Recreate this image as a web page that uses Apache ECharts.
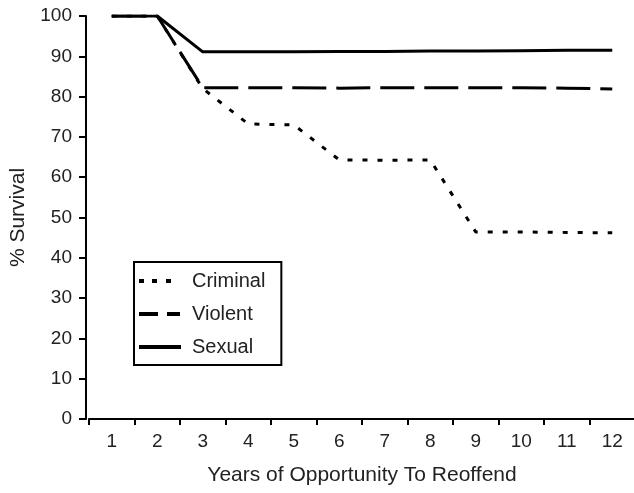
<!DOCTYPE html>
<html>
<head>
<meta charset="utf-8">
<script src="https://cdn.jsdelivr.net/npm/echarts@6/dist/echarts.min.js"></script>
<style>
  html, body { margin: 0; padding: 0; background: #fff; }
  #chart { width: 634px; height: 493px; }
</style>
</head>
<body>
<div id="chart"></div>
<script>
var years = ['1', '2', '3', '4', '5', '6', '7', '8', '9', '10', '11', '12'];
var criminal = [100, 100, 82, 73.2, 73, 64.3, 64.2, 64.3, 46.4, 46.4, 46.3, 46.2];
var violent = [100, 100, 82.2, 82.2, 82.2, 82.1, 82.2, 82.2, 82.2, 82.2, 82.1, 81.9];
var sexual = [100, 100, 91.1, 91.1, 91.1, 91.2, 91.2, 91.3, 91.3, 91.4, 91.5, 91.5];

var font = 'Liberation Sans, Arial, sans-serif';
var ink = '#222';

// legend keys drawn as little filled shapes (last M just stretches the box)
var keyCriminal = 'path://M0,0h5v4h-5z M13,0h5v4h-5z M27,0h5v4h-5z M42,4';
var keyViolent = 'path://M0,0h19v4h-19z M28,0h13v4h-13z M42,4';
var keySexual = 'path://M0,0h42v4h-42z';

var myChart = echarts.init(document.getElementById('chart'));

var option = {
  animation: false,
  textStyle: { fontFamily: font },
  grid: { left: 89, right: -1, top: 16, bottom: 74, outerBoundsMode: 'none', containLabel: false },
  legend: {
    orient: 'vertical',
    left: 134,
    top: 262,
    padding: [9, 16, 8, 5],
    itemGap: 13,
    itemWidth: 42,
    itemHeight: 4,
    borderColor: '#000',
    borderWidth: 2,
    itemStyle: { color: '#000' },
    textStyle: { fontFamily: font, fontSize: 20, color: ink, padding: [0, 0, 0, 6] },
    data: [
      { name: 'Criminal', icon: keyCriminal },
      { name: 'Violent', icon: keyViolent },
      { name: 'Sexual', icon: keySexual }
    ]
  },
  xAxis: {
    type: 'category',
    data: years,
    boundaryGap: true,
    name: 'Years of Opportunity To Reoffend',
    nameLocation: 'middle',
    nameGap: 46,
    nameTextStyle: { fontSize: 21, color: ink },
    axisLine: { lineStyle: { color: '#000', width: 2 } },
    axisTick: { show: true, length: 6, lineStyle: { color: '#000', width: 2 } },
    axisLabel: { fontSize: 19, color: ink, margin: 13 },
    splitLine: { show: false }
  },
  yAxis: {
    type: 'value',
    min: 0,
    max: 100,
    interval: 10,
    offset: 3,
    name: '% Survival',
    nameLocation: 'middle',
    nameGap: 57,
    nameTextStyle: { fontSize: 21, color: ink },
    axisLine: { show: true, lineStyle: { color: '#000', width: 2 } },
    axisTick: { show: true, length: 7, lineStyle: { color: '#000', width: 2 } },
    axisLabel: { fontSize: 19, color: ink, margin: 14 },
    splitLine: { show: false }
  },
  series: [
    {
      name: 'Criminal',
      type: 'line',
      data: criminal,
      symbol: 'none',
      itemStyle: { color: '#000' },
      lineStyle: { color: '#000', width: 3, type: [5, 10] }
    },
    {
      name: 'Violent',
      type: 'line',
      data: violent,
      symbol: 'none',
      itemStyle: { color: '#000' },
      lineStyle: { color: '#000', width: 3, type: [34, 10] }
    },
    {
      name: 'Sexual',
      type: 'line',
      data: sexual,
      symbol: 'none',
      itemStyle: { color: '#000' },
      lineStyle: { color: '#000', width: 3 }
    }
  ]
};

myChart.setOption(option);
</script>
</body>
</html>
